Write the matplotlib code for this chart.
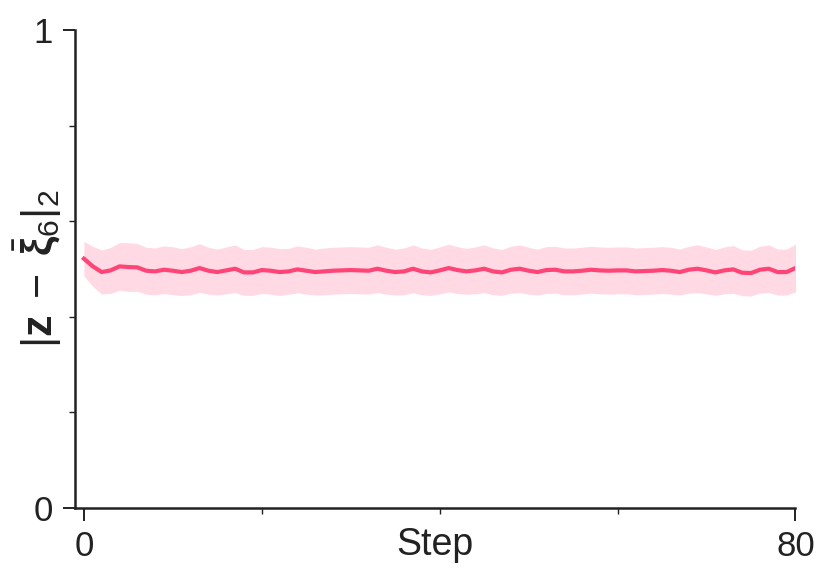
import numpy as np
import matplotlib
matplotlib.use('Agg')
import matplotlib.pyplot as plt
from matplotlib.ticker import FixedLocator, NullFormatter

plt.rcParams['font.family'] = ['Liberation Sans', 'DejaVu Sans']
plt.rcParams['mathtext.fontset'] = 'custom'
plt.rcParams['mathtext.rm'] = 'Liberation Sans'
plt.rcParams['mathtext.it'] = 'Liberation Sans:italic'
plt.rcParams['mathtext.bf'] = 'Liberation Sans:bold'
plt.rcParams['mathtext.bfit'] = 'Liberation Sans:bold'

# mean distance per step
steps = np.arange(81)
mean_dist = [
    0.5216, 0.5056, 0.4937, 0.4972, 0.5056, 0.5042, 0.5035, 0.4965, 0.4951, 0.4986,
    0.4965, 0.4937, 0.4965, 0.5021, 0.4965, 0.4937, 0.4972, 0.5007, 0.4930, 0.4930,
    0.4979, 0.4965, 0.4937, 0.4951, 0.4993, 0.4965, 0.4937, 0.4951, 0.4965, 0.4972,
    0.4979, 0.4972, 0.4965, 0.5007, 0.4965, 0.4937, 0.4951, 0.5007, 0.4951, 0.4930,
    0.4972, 0.5021, 0.4979, 0.4951, 0.4972, 0.5007, 0.4951, 0.4930, 0.4986, 0.5007,
    0.4965, 0.4937, 0.4979, 0.4986, 0.4951, 0.4951, 0.4965, 0.4986, 0.4972, 0.4965,
    0.4972, 0.4972, 0.4951, 0.4958, 0.4965, 0.4979, 0.4965, 0.4937, 0.4986, 0.5007,
    0.4972, 0.4930, 0.4972, 0.4993, 0.4923, 0.4916, 0.4986, 0.5007, 0.4937, 0.4937,
    0.5021,
]
# spread (std) per step
std_dist = [
    0.036, 0.042, 0.046, 0.048, 0.050, 0.051, 0.050, 0.049, 0.049, 0.050,
    0.050, 0.049, 0.050, 0.051, 0.049, 0.048, 0.049, 0.050, 0.048, 0.048,
    0.049, 0.049, 0.049, 0.048, 0.049, 0.049, 0.048, 0.049, 0.049, 0.049,
    0.049, 0.049, 0.049, 0.050, 0.049, 0.048, 0.049, 0.050, 0.049, 0.048,
    0.049, 0.050, 0.049, 0.048, 0.049, 0.050, 0.049, 0.048, 0.049, 0.050,
    0.049, 0.048, 0.049, 0.049, 0.049, 0.049, 0.049, 0.049, 0.049, 0.049,
    0.049, 0.049, 0.049, 0.049, 0.049, 0.049, 0.049, 0.048, 0.049, 0.050,
    0.049, 0.048, 0.049, 0.050, 0.048, 0.048, 0.049, 0.050, 0.048, 0.048,
    0.050,
]

mean_dist = np.array(mean_dist)
std_dist = np.array(std_dist)

line_color = '#ff4477'
ink = '#222222'

fig = plt.figure(figsize=(8.3, 5.84), dpi=100)
ax = fig.add_axes([0.0904, 0.130, 0.868, 0.8186])

ax.fill_between(steps, mean_dist - std_dist, mean_dist + std_dist,
                color=line_color, alpha=0.2, linewidth=0)
ax.plot(steps, mean_dist, color=line_color, linewidth=3.0)

ax.set_xlim(-1, 80)
ax.set_ylim(0, 1)

ax.xaxis.set_major_locator(FixedLocator([0, 80]))
ax.xaxis.set_minor_locator(FixedLocator([20, 40, 60]))
ax.yaxis.set_major_locator(FixedLocator([0, 1]))
ax.yaxis.set_minor_locator(FixedLocator([0.2, 0.4, 0.6, 0.8]))
ax.xaxis.set_minor_formatter(NullFormatter())
ax.yaxis.set_minor_formatter(NullFormatter())

for side in ['top', 'right']:
    ax.spines[side].set_visible(False)
for side in ['left', 'bottom']:
    ax.spines[side].set_linewidth(1.8)
    ax.spines[side].set_color(ink)

ax.tick_params(which='major', length=9, width=1.4, color=ink,
               labelsize=25, labelcolor=ink, pad=7)
ax.tick_params(which='minor', length=4, width=1.0, color=ink)

ax.set_xlabel('Step', fontsize=27, color=ink)
ax.xaxis.set_label_coords(0.5, -0.04, transform=ax.transAxes)
ax.xaxis.label.set_verticalalignment('top')
ax.set_ylabel(r'$|\mathbf{z}\;-\;\bar{\boldsymbol{\xi}}_6|_2$', fontsize=31, color=ink)
ax.yaxis.set_label_coords(-0.016, 0.5, transform=ax.transAxes)

fig.savefig('out.png', dpi=100)
